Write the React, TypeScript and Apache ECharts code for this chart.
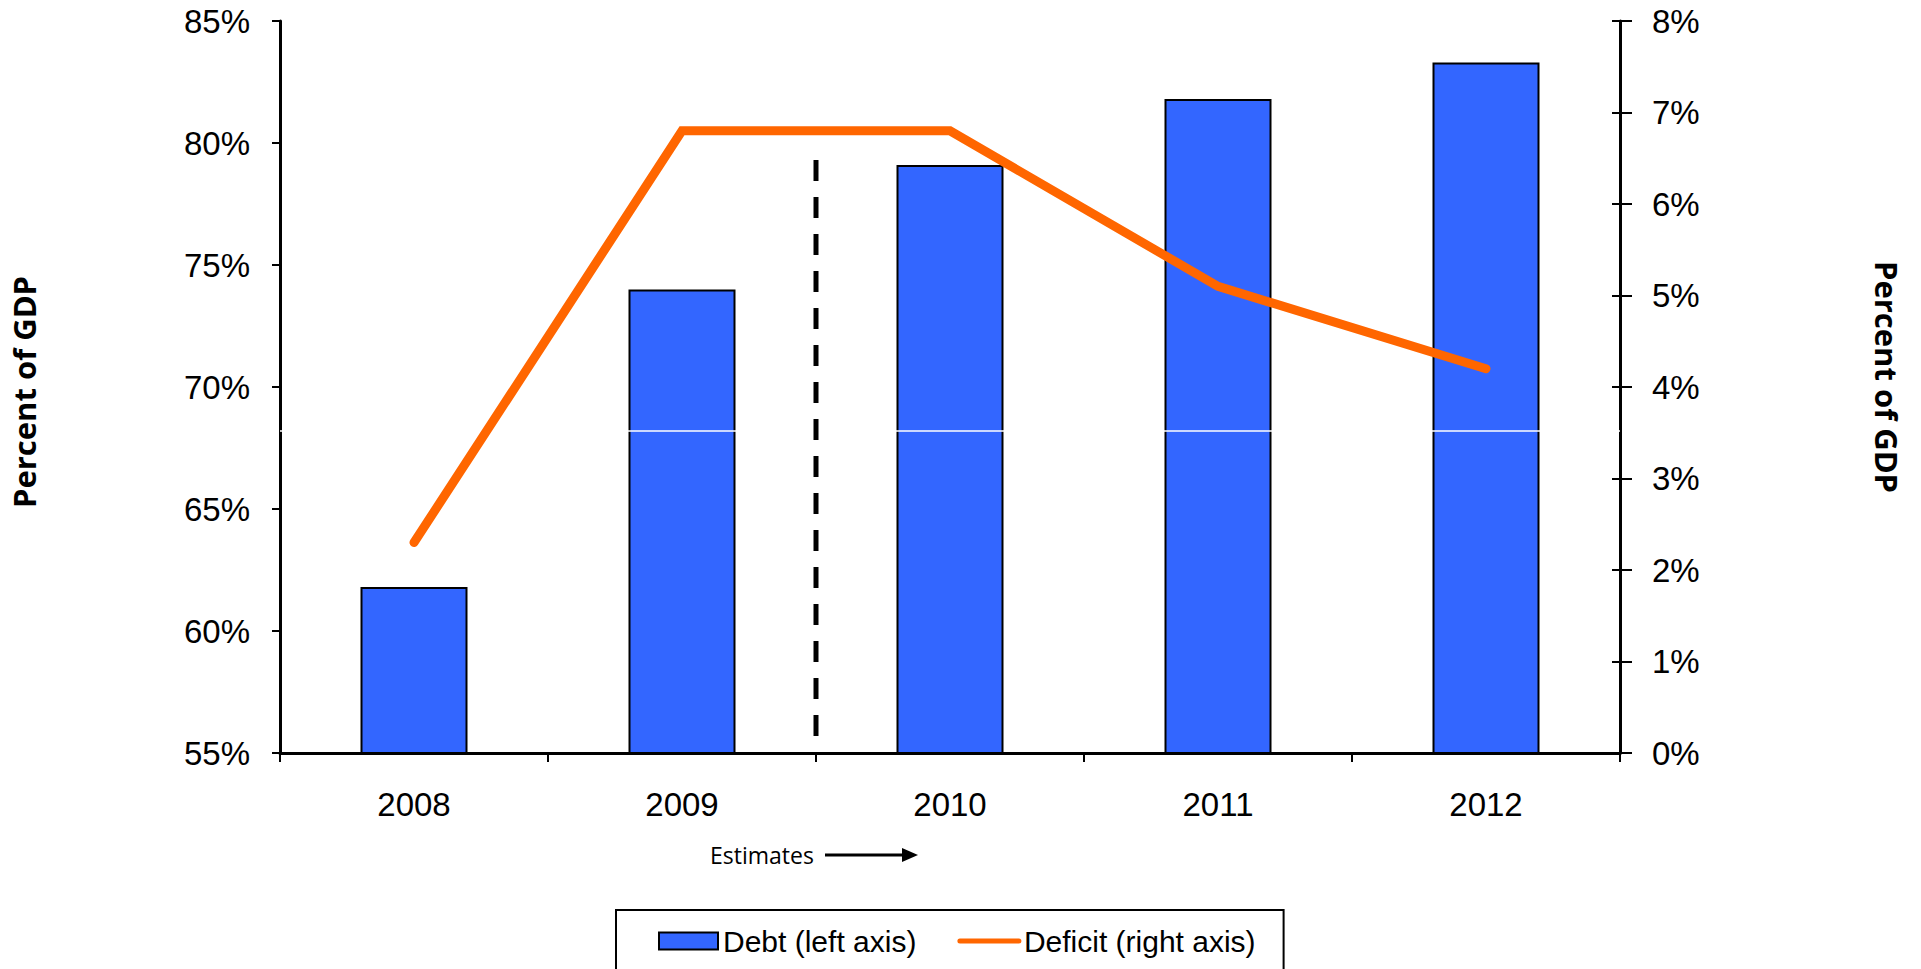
import React, { useEffect, useRef } from "react";
import * as echarts from "echarts";

const categories = ["2008", "2009", "2010", "2011", "2012"];
const debtValues = [61.8, 74.0, 79.1, 81.8, 83.3];
const deficitValues = [2.3, 6.8, 6.8, 5.1, 4.2];
const estimatesLine = [
  [2, 79.3],
  [2, 55.3],
];
const whiteRuleValue = 68.2;

export default function App() {
  const ref = useRef<HTMLDivElement>(null);
  useEffect(() => {
    if (!ref.current) return;
    const chart = echarts.init(ref.current, null, { renderer: "svg" });
    const labelFont = "Liberation Sans, Arial, sans-serif";
    chart.setOption({
      animation: false,
      backgroundColor: "#ffffff",
      grid: { left: 280, right: 301, top: 21, bottom: 216, containLabel: false },
      xAxis: [
        {
          type: "category",
          data: categories,
          boundaryGap: true,
          axisLine: { lineStyle: { color: "#000", width: 3 } },
          axisTick: { show: true, length: 9, lineStyle: { color: "#000", width: 2 } },
          axisLabel: { fontSize: 33, color: "#000", fontFamily: labelFont, margin: 35 },
          splitLine: { show: false },
        },
        { type: "value", min: 0, max: 5, show: false },
      ],
      yAxis: [
        {
          type: "value",
          min: 55,
          max: 85,
          interval: 5,
          position: "left",
          axisLine: { show: true, lineStyle: { color: "#000", width: 3 } },
          axisTick: { show: true, length: 8, lineStyle: { color: "#000", width: 2 } },
          axisLabel: { formatter: "{value}%", fontSize: 33, color: "#000", fontFamily: labelFont, margin: 30 },
          splitLine: { show: false },
        },
        {
          type: "value",
          min: 0,
          max: 8,
          interval: 1,
          position: "right",
          axisLine: { show: true, lineStyle: { color: "#000", width: 3 } },
          axisTick: { show: true, length: 12, lineStyle: { color: "#000", width: 2 } },
          axisLabel: { formatter: "{value}%", fontSize: 33, color: "#000", fontFamily: labelFont, margin: 32 },
          splitLine: { show: false },
        },
        {
          type: "value",
          min: 0,
          max: 8,
          interval: 1,
          position: "right",
          axisLine: { show: false },
          axisTick: { show: true, inside: true, length: 8, lineStyle: { color: "#000", width: 2 } },
          axisLabel: { show: false },
          splitLine: { show: false },
        },
      ],
      legend: {
        left: 616,
        top: 910,
        orient: "horizontal",
        borderColor: "#000",
        borderWidth: 2,
        padding: [16, 28, 48, 42],
        itemWidth: 59,
        itemHeight: 17,
        itemGap: 41,
        textStyle: { fontSize: 30, color: "#000", fontFamily: labelFont },
        data: [
          { name: "Debt (left axis)", icon: "rect" },
          { name: "Deficit (right axis)", lineStyle: { width: 5 }, itemStyle: { opacity: 0 } },
        ],
      },
      series: [
        {
          name: "Debt (left axis)",
          type: "bar",
          data: debtValues,
          xAxisIndex: 0,
          yAxisIndex: 0,
          barWidth: 107,
          z: 2,
          itemStyle: { color: "#3366FF", borderColor: "#000", borderWidth: 2 },
          markLine: {
            silent: true,
            z: 3,
            symbol: "none",
            label: { show: false },
            lineStyle: { color: "#ffffff", width: 1.5, type: "solid" },
            data: [{ yAxis: whiteRuleValue }],
          },
        },
        {
          name: "Estimates",
          type: "line",
          data: estimatesLine,
          xAxisIndex: 1,
          yAxisIndex: 0,
          symbol: "none",
          z: 6,
          lineStyle: { color: "#000", width: 5, type: [21, 16] },
        },
        {
          name: "Deficit (right axis)",
          type: "line",
          data: deficitValues,
          xAxisIndex: 0,
          yAxisIndex: 1,
          symbol: "none",
          z: 7,
          itemStyle: { color: "#FF6600" },
          lineStyle: { color: "#FF6600", width: 9, cap: "round", join: "miter" },
        },
      ],
      graphic: [
        {
          type: "text",
          x: 24,
          y: 392,
          rotation: Math.PI / 2,
          style: {
            text: "Percent of GDP",
            fontSize: 31,
            fontWeight: "bold",
            fontFamily: "Open Sans, sans-serif",
            fill: "#000",
            textAlign: "center",
            textVerticalAlign: "middle",
          },
        },
        {
          type: "text",
          x: 1887,
          y: 377,
          rotation: -Math.PI / 2,
          style: {
            text: "Percent of GDP",
            fontSize: 31,
            fontWeight: "bold",
            fontFamily: "Open Sans, sans-serif",
            fill: "#000",
            textAlign: "center",
            textVerticalAlign: "middle",
          },
        },
        {
          type: "text",
          x: 710,
          y: 855,
          style: {
            text: "Estimates",
            fontSize: 23,
            fontFamily: "Open Sans, sans-serif",
            fill: "#000",
            textAlign: "left",
            textVerticalAlign: "middle",
          },
        },
        {
          type: "line",
          shape: { x1: 825, y1: 855, x2: 905, y2: 855 },
          style: { stroke: "#000", lineWidth: 3 },
        },
        {
          type: "polygon",
          shape: { points: [[902, 848], [918, 855], [902, 862]] },
          style: { fill: "#000" },
        },
      ],
    });
    return () => chart.dispose();
  }, []);
  return (
    <div
      ref={ref}
      style={{ position: "absolute", left: 0, top: 0, width: 1921, height: 969 }}
    />
  );
}
